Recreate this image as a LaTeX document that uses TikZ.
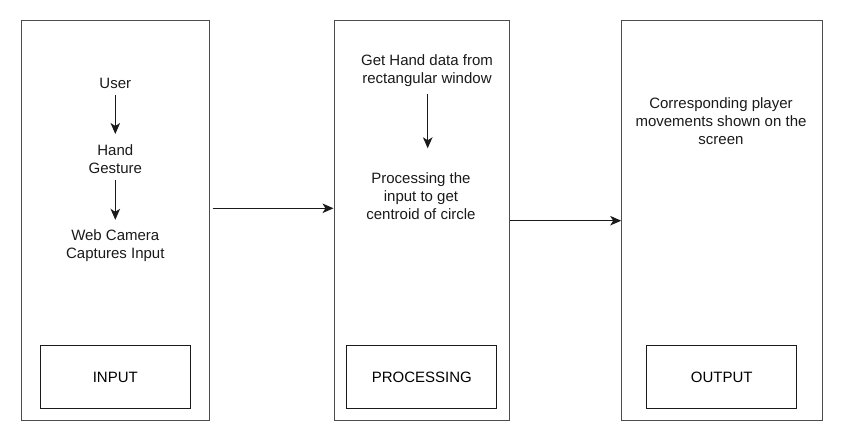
\documentclass[tikz,border=0pt]{standalone}
\usepackage{fontspec}
\setmainfont{Liberation Sans}
\usetikzlibrary{arrows.meta}

\definecolor{flowink}{HTML}{1A1A1A}
\definecolor{flowframe}{HTML}{4D4D4D}

\tikzset{
  stagebox/.style={draw=flowframe, line width=1.1pt, minimum height=400, inner sep=0},
  tagbox/.style={draw=flowink, line width=0.9pt, minimum width=150, minimum height=62.6, inner sep=0},
  steptext/.style={align=center, inner sep=0, text=flowink},
  flowarrow/.style={draw=flowink, line width=0.9pt, -{Stealth[length=11, width=9.5, inset=3]}},
}

\begin{document}
\begin{tikzpicture}[
  x=1pt, y=-1pt,
  font=\fontsize{15}{18}\selectfont,
]
\useasboundingbox (0,0) rectangle (843,442);

% the three stages
\node[stagebox, minimum width=188] (inframe) at (115.3,220.7) {};
\node[stagebox, minimum width=175.3] (procframe) at (421.7,220.7) {};
\node[stagebox, minimum width=200.3] (outframe) at (721.9,220.7) {};

\node[tagbox] (intag) at (115.3,377) {INPUT};
\node[tagbox] (proctag) at (421.9,377) {PROCESSING};
\node[tagbox] (outtag) at (721.7,377) {OUTPUT};

% input column
\node[steptext] (user) at (115.3,83) {User};
\node[steptext] (gesture) at (115.3,158.7) {Hand\\Gesture};
\node[steptext] (camera) at (115.3,246) {Web Camera\\Captures Input};
\draw[flowarrow] ([yshift=-7]user.south) -- ([yshift=10]gesture.north);
\draw[flowarrow] ([yshift=-7]gesture.south) -- ([yshift=10]camera.north);

% processing column
\node[steptext] (handdata) at (427,71) {Get Hand data from\\rectangular window};
\node[steptext] (centroid) at (421,196) {Processing the\\input to get\\centroid of circle};
\draw[flowarrow] ([xshift=0.7, yshift=-7]handdata.south) -- ([xshift=6.7, yshift=24]centroid.north);

% output column
\node[steptext] (movement) at (721,121) {Corresponding player\\movements shown on the\\screen};

% links between stages
\draw[flowarrow] ([xshift=2.7, yshift=12.4]inframe.east) -- ([yshift=12.4]procframe.west);
\draw[flowarrow] (procframe.east) -- (outframe.west);

\end{tikzpicture}
\end{document}
